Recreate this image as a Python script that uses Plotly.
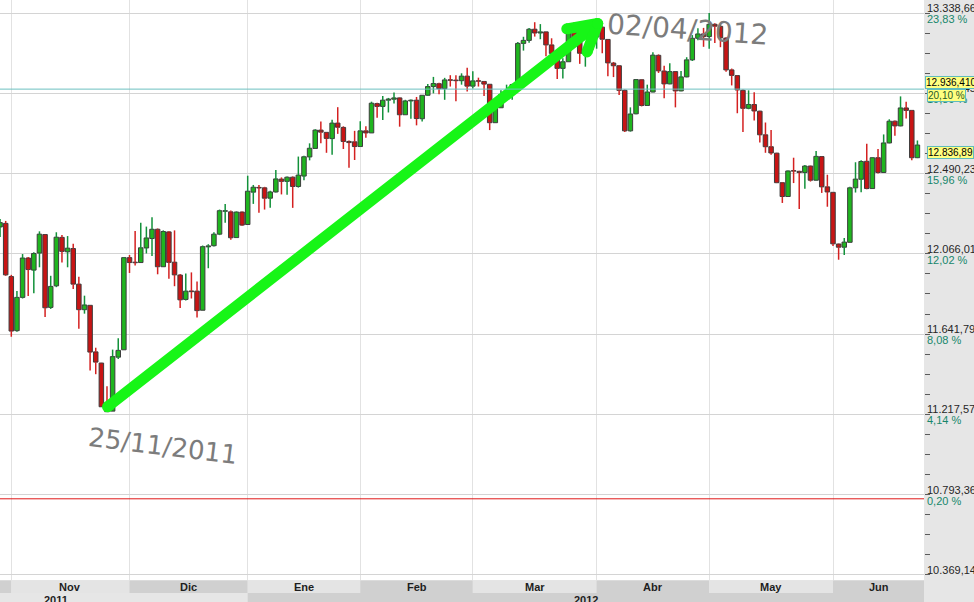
import plotly.graph_objects as go

# ---------------- data (daily OHLC, Oct-2011 .. Jun-2012) ----------------
MONTH_DAYS = [
    ("2011-10", [28, 31]),
    ("2011-11", [1, 2, 3, 4, 7, 8, 9, 10, 11, 14, 15, 16, 17, 18, 21, 22, 23, 25, 28, 29, 30]),
    ("2011-12", [1, 2, 5, 6, 7, 8, 9, 12, 13, 14, 15, 16, 19, 20, 21, 22, 23, 27, 28, 29, 30]),
    ("2012-01", [3, 4, 5, 6, 9, 10, 11, 12, 13, 17, 18, 19, 20, 23, 24, 25, 26, 27, 30, 31]),
    ("2012-02", [1, 2, 3, 6, 7, 8, 9, 10, 13, 14, 15, 16, 17, 21, 22, 23, 24, 27, 28, 29]),
    ("2012-03", [1, 2, 5, 6, 7, 8, 9, 12, 13, 14, 15, 16, 19, 20, 21, 22, 23, 26, 27, 28, 29, 30]),
    ("2012-04", [2, 3, 4, 5, 9, 10, 11, 12, 13, 16, 17, 18, 19, 20, 23, 24, 25, 26, 27, 30]),
    ("2012-05", [1, 2, 3, 4, 7, 8, 9, 10, 11, 14, 15, 16, 17, 18, 21, 22, 23, 24, 25, 29, 30, 31]),
    ("2012-06", [1, 4, 5, 6, 7, 8, 11, 12, 13, 14, 15, 18, 19, 20, 21, 22]),
]
dates = [f"{m}-{d:02d}" for m, ds in MONTH_DAYS for d in ds]

OPEN = [
    12208, 12227,
    11946, 11660, 11836, 12044, 11980, 12070, 12168, 11783, 11897, 12153, 12077, 12094, 11906, 11771, 11794, 11548, 11489, 11258, 11235, 11520, 11559,
    12046, 12020, 12020, 12097, 12147, 12196, 11998, 12182, 12022, 11954, 11825, 11870, 11869, 11768, 12103, 12109, 12170, 12291, 12288, 12152, 12287,
    12221, 12392, 12415, 12415, 12360, 12393, 12461, 12449, 12471, 12422, 12477, 12578, 12623, 12720, 12708, 12675, 12757, 12734, 12660, 12658,
    12633, 12716, 12705, 12860, 12845, 12878, 12883, 12890, 12801, 12874, 12878, 12780, 12904, 12950, 12965, 12939, 12985, 12983, 12981, 13005,
    12952, 12980, 12977, 12962, 12759, 12838, 12908, 12922, 12960, 13178, 13194, 13253, 13233, 13239, 13170, 13125, 13046, 13081, 13241, 13197, 13126, 13146,
    13212, 13264, 13199, 13074, 13060, 12930, 12716, 12806, 12986, 12850, 12921, 13115, 13032, 12964, 13029, 12927, 13001, 13091, 13205, 13228,
    13214, 13279, 13268, 13206, 13038, 13008, 12930, 12835, 12855, 12820, 12695, 12632, 12598, 12442, 12369, 12504, 12502, 12496, 12530, 12455, 12580, 12420,
    12391, 12118, 12101, 12127, 12415, 12460, 12555, 12411, 12574, 12496, 12652, 12767, 12742, 12837, 12824, 12574,
]
HIGH = [
    12250, 12240,
    11955, 11870, 12065, 12050, 12075, 12185, 12170, 11950, 12180, 12165, 12160, 12120, 11945, 11845, 11796, 11570, 11490, 11366, 11560, 11620, 12050,
    12060, 12187, 12230, 12210, 12260, 12200, 12190, 12185, 12190, 11960, 11962, 11968, 11920, 12110, 12117, 12180, 12300, 12330, 12295, 12290, 12290,
    12479, 12430, 12430, 12420, 12400, 12509, 12470, 12475, 12475, 12580, 12585, 12650, 12725, 12765, 12710, 12775, 12841, 12740, 12665, 12716,
    12766, 12740, 12870, 12865, 12900, 12890, 12919, 12892, 12880, 12882, 12895, 12905, 12963, 13001, 12970, 12996, 13010, 13010, 13020, 13050,
    13031, 12997, 12980, 12963, 12857, 12930, 12960, 12965, 13185, 13213, 13260, 13290, 13280, 13240, 13205, 13126, 13100, 13250, 13290, 13220, 13150, 13220,
    13290, 13275, 13200, 13080, 13062, 12935, 12840, 12990, 12988, 12960, 13131, 13120, 13060, 13073, 13030, 13032, 13105, 13222, 13258, 13260,
    13338.66, 13285, 13280, 13210, 13045, 13010, 12935, 12930, 12920, 12822, 12760, 12720, 12600, 12445, 12506, 12574, 12505, 12535, 12532, 12610, 12582, 12484,
    12393, 12120, 12150, 12420, 12550, 12560, 12648, 12576, 12620, 12697, 12777, 12770, 12898, 12870, 12826, 12665,
]
LOW = [
    12155, 11950,
    11628, 11655, 11830, 11843, 11858, 11995, 11732, 11775, 11890, 12020, 11995, 11880, 11670, 11750, 11450, 11430, 11257, 11232, 11235, 11510, 11559,
    11965, 12004, 12020, 12068, 12054, 11958, 11998, 11935, 11895, 11780, 11820, 11830, 11730, 11768, 11990, 12105, 12165, 12230, 12140, 12150, 12215,
    12221, 12330, 12283, 12300, 12310, 12390, 12380, 12378, 12309, 12416, 12455, 12560, 12620, 12650, 12600, 12590, 12700, 12620, 12521, 12562,
    12630, 12680, 12705, 12785, 12773, 12813, 12860, 12738, 12800, 12780, 12745, 12765, 12900, 12914, 12909, 12880, 12950, 12873, 12960, 12924,
    12940, 12950, 12900, 12720, 12759, 12838, 12900, 12880, 12958, 13140, 13182, 13214, 13200, 13110, 13110, 12990, 12992, 13080, 13190, 13070, 13055, 13140,
    13150, 13126, 13005, 13000, 12905, 12710, 12712, 12804, 12845, 12848, 12920, 13022, 12888, 12962, 12840, 12925, 12999, 13085, 13195, 13160,
    13150, 13180, 13158, 13028, 12956, 12809, 12710, 12830, 12770, 12655, 12600, 12590, 12440, 12335, 12368, 12440, 12303, 12410, 12448, 12453, 12388, 12315,
    12107, 12035, 12060, 12127, 12390, 12392, 12408, 12410, 12490, 12495, 12650, 12690, 12740, 12781, 12560, 12572,
]
CLOSE = [
    12231, 11955,
    11658, 11836, 12044, 11983, 12068, 12170, 11781, 11894, 12154, 12079, 12096, 11906, 11771, 11796, 11547, 11494, 11258, 11232, 11523, 11556, 12046,
    12020, 12019, 12098, 12150, 12196, 11998, 12184, 12021, 11955, 11823, 11869, 11866, 11766, 12104, 12108, 12170, 12294, 12291, 12151, 12287, 12218,
    12397, 12418, 12414, 12360, 12393, 12462, 12449, 12471, 12422, 12482, 12579, 12624, 12720, 12709, 12676, 12757, 12735, 12660, 12654, 12633,
    12716, 12705, 12862, 12845, 12878, 12884, 12890, 12801, 12874, 12878, 12781, 12904, 12950, 12966, 12939, 12985, 12983, 12981, 13005, 12952,
    12980, 12978, 12963, 12759, 12837, 12908, 12922, 12960, 13178, 13194, 13253, 13233, 13239, 13170, 13125, 13046, 13081, 13242, 13198, 13126, 13146, 13212,
    13264, 13200, 13075, 13060, 12930, 12716, 12805, 12987, 12850, 12921, 13116, 13033, 12964, 13029, 12927, 13001, 13091, 13205, 13228, 13214,
    13279, 13269, 13207, 13038, 13009, 12932, 12835, 12855, 12821, 12695, 12632, 12599, 12442, 12369, 12504, 12503, 12496, 12530, 12455, 12581, 12420, 12393,
    12119, 12101, 12128, 12415, 12461, 12554, 12411, 12574, 12496, 12652, 12767, 12742, 12837, 12824, 12574, 12641,
]

# axis labels
PRICE_TICKS = [13338.66, 12914.45, 12490.23, 12066.01, 11641.79, 11217.57, 10793.36, 10369.14]
PRICE_LABELS = ["13.338,66", "12.914,45", "12.490,23", "12.066,01", "11.641,79", "11.217,57", "10.793,36", "10.369,14"]
PCT_LABELS = ["23,83 %", "19,89 %", "15,96 %", "12,02 %", "8,08 %", "4,14 %", "0,20 %", ""]
MONTH_STARTS = ["2011-11-01", "2011-12-01", "2012-01-03", "2012-02-01", "2012-03-01", "2012-04-02", "2012-05-01", "2012-06-01"]
MONTH_LABELS = ["Nov", "Dic", "Ene", "Feb", "Mar", "Abr", "May", "Jun"]
YEAR_LABELS = ["2011", "2012"]

# reference lines / tags
TEAL_LEVEL = 12936.41
BASE_LEVEL = 10771.6
TAG_TEAL = ("12.936,410", "20,10 %")
TAG_LAST = "12.836,89"

# hand-drawn arrow (index, price) and notes
ARROW_X = [19.1, 106.2, 100.7, None, 106.2, 104.3]
ARROW_Y = [11258, 13283, 13255, None, 13283, 13133]
NOTE_START = "25/11/2011"
NOTE_END = "02/04/2012"

# ---------------- figure ----------------
N = len(dates)
X_RANGE = [-0.01, 164.17]
Y_RANGE = [10342.6, 13407.35]
PLOT_H = 580.0

GREEN_FILL = "#1fb51f"
RED_FILL = "#c81414"
GREEN_WICK = "#12913a"
RED_WICK = "#d42020"

xs = list(range(N))
base = [min(o, c) for o, c in zip(OPEN, CLOSE)]
height = [max(abs(c - o), 3) for o, c in zip(OPEN, CLOSE)]
fills = [GREEN_FILL if c >= o else RED_FILL for o, c in zip(OPEN, CLOSE)]

fig = go.Figure()
fig.add_trace(go.Bar(
    x=xs, y=height, base=base, width=0.8,
    marker=dict(color=fills, line=dict(color="#3c3c3c", width=1)),
    hoverinfo="skip",
))

gx, gy, rx, ry = [], [], [], []
for i, (o, h, l, c) in enumerate(zip(OPEN, HIGH, LOW, CLOSE)):
    top, bot = max(o, c), min(o, c)
    tx, ty = (gx, gy) if c >= o else (rx, ry)
    if h > top:
        tx += [i, i, None]
        ty += [h, top, None]
    if l < bot:
        tx += [i, i, None]
        ty += [bot, l, None]
fig.add_trace(go.Scatter(x=gx, y=gy, mode="lines", line=dict(color=GREEN_WICK, width=1.5), hoverinfo="skip"))
fig.add_trace(go.Scatter(x=rx, y=ry, mode="lines", line=dict(color=RED_WICK, width=1.5), hoverinfo="skip"))

# arrow
fig.add_trace(go.Scatter(
    x=ARROW_X, y=ARROW_Y, mode="lines+markers",
    line=dict(color="#17f517", width=11),
    marker=dict(color="#17f517", size=11),
    hoverinfo="skip",
))

month_idx = [dates.index(d) for d in MONTH_STARTS]

shapes = []
# horizontal reference lines
shapes.append(dict(type="line", xref="paper", x0=0, x1=1, yref="y", y0=TEAL_LEVEL, y1=TEAL_LEVEL,
                   line=dict(color="#6cc0c0", width=1)))
shapes.append(dict(type="line", xref="paper", x0=0, x1=1, yref="y", y0=BASE_LEVEL, y1=BASE_LEVEL,
                   line=dict(color="#e01818", width=1)))

# bottom band: month row + year row
row1_top, row1_bot = -0.5 / PLOT_H, -13.0 / PLOT_H
row2_bot = -22.0 / PLOT_H
LIGHT, DARK = "#e4e4e4", "#d0d0d0"
bounds = [-2] + month_idx + [N + 2]
for k in range(len(bounds) - 1):
    col = DARK if k % 2 == 0 else LIGHT
    shapes.append(dict(type="rect", xref="x", yref="paper", x0=bounds[k], x1=bounds[k + 1],
                       y0=row1_bot, y1=row1_top, fillcolor=col, line=dict(width=0), layer="above"))
jan_idx = dates.index("2012-01-03")
shapes.append(dict(type="rect", xref="x", yref="paper", x0=-2, x1=jan_idx, y0=row2_bot, y1=row1_bot,
                   fillcolor="#e6e6e6", line=dict(width=0), layer="above"))
shapes.append(dict(type="rect", xref="x", yref="paper", x0=jan_idx, x1=N + 2, y0=row2_bot, y1=row1_bot,
                   fillcolor=DARK, line=dict(width=0), layer="above"))

annotations = []
FONT = "Liberation Sans, Arial, sans-serif"
# month labels centred in visible cell
for k, lab in enumerate(MONTH_LABELS):
    a = max(month_idx[k], X_RANGE[0])
    b = min(month_idx[k + 1] if k + 1 < len(month_idx) else X_RANGE[1], X_RANGE[1])
    annotations.append(dict(x=(a + b) / 2, xref="x", y=-7.0 / PLOT_H, yref="paper", text=f"<b>{lab}</b>",
                            showarrow=False, font=dict(family=FONT, size=11, color="#1e1e1e"),
                            xanchor="center", yanchor="middle"))
# year labels
annotations.append(dict(x=56 / 924, xref="paper", y=-19.5 / PLOT_H, yref="paper", text=f"<b>{YEAR_LABELS[0]}</b>",
                        showarrow=False, font=dict(family=FONT, size=11, color="#1e1e1e"),
                        xanchor="center", yanchor="middle"))
annotations.append(dict(x=(jan_idx + X_RANGE[1]) / 2, xref="x", y=-19.5 / PLOT_H, yref="paper",
                        text=f"<b>{YEAR_LABELS[1]}</b>", showarrow=False,
                        font=dict(family=FONT, size=11, color="#1e1e1e"), xanchor="center", yanchor="middle"))

# right axis labels (price above, percent below each gridline)
for v, p, q in zip(PRICE_TICKS, PRICE_LABELS, PCT_LABELS):
    annotations.append(dict(x=1, xref="paper", y=v, yref="y", text=p, showarrow=False,
                            xanchor="left", yanchor="middle", xshift=1, yshift=5,
                            font=dict(family=FONT, size=11, color="#262626")))
    if q:
        annotations.append(dict(x=1, xref="paper", y=v, yref="y", text=q, showarrow=False,
                                xanchor="left", yanchor="middle", xshift=1, yshift=-6,
                                font=dict(family=FONT, size=11, color="#17866b")))

# yellow tags
TAG_STYLE = dict(bgcolor="#ffff80", bordercolor="#5fbcbc", borderwidth=1, borderpad=0)
annotations.append(dict(x=1, xref="paper", y=TEAL_LEVEL, yref="y", text=TAG_TEAL[0], showarrow=False,
                        xanchor="left", yanchor="middle", xshift=1, yshift=7,
                        font=dict(family=FONT, size=10, color="#000000"), **TAG_STYLE))
annotations.append(dict(x=1, xref="paper", y=TEAL_LEVEL, yref="y", text=TAG_TEAL[1], showarrow=False,
                        xanchor="left", yanchor="middle", xshift=3, yshift=-6,
                        font=dict(family=FONT, size=10, color="#1e5a2a"), **TAG_STYLE))
annotations.append(dict(x=1, xref="paper", y=CLOSE[-1], yref="y", text=TAG_LAST, showarrow=False,
                        xanchor="left", yanchor="middle", xshift=3, yshift=-7,
                        font=dict(family=FONT, size=10, color="#000000"), **TAG_STYLE))

# handwritten notes
annotations.append(dict(x=163 / 924, xref="paper", y=(PLOT_H - 446) / PLOT_H, yref="paper", text=NOTE_START,
                        showarrow=False, textangle=7, xanchor="center", yanchor="middle",
                        font=dict(family="DejaVu Sans", size=26, color="#7c7c7c")))
annotations.append(dict(x=687 / 924, xref="paper", y=(PLOT_H - 29) / PLOT_H, yref="paper", text=NOTE_END,
                        showarrow=False, textangle=4, xanchor="center", yanchor="middle",
                        font=dict(family="DejaVu Sans", size=28, color="#7c7c7c")))

fig.update_layout(
    width=974, height=602,
    margin=dict(l=0, r=50, t=0, b=22),
    paper_bgcolor="#e6e6e6", plot_bgcolor="#ffffff",
    showlegend=False, barmode="overlay",
    xaxis=dict(range=X_RANGE, tickvals=month_idx, showticklabels=False, ticks="",
               showgrid=True, gridcolor="#e2e2e2", gridwidth=1, zeroline=False, showline=False),
    yaxis=dict(range=Y_RANGE, side="right", tickvals=PRICE_TICKS, showticklabels=False, ticks="",
               showgrid=True, gridcolor="#d4d4d4", gridwidth=1, zeroline=False, showline=False,
               minor=dict(tick0=PRICE_TICKS[-1], dtick=(PRICE_TICKS[0] - PRICE_TICKS[-1]) / 28,
                          ticks="outside", ticklen=5, tickcolor="#5a5a5a", showgrid=False)),
    shapes=shapes, annotations=annotations,
)

fig.write_html(
    "out.html",
    config={"displayModeBar": False, "staticPlot": True},
    post_script="document.body.style.margin='0';document.body.style.overflow='hidden';",
)
